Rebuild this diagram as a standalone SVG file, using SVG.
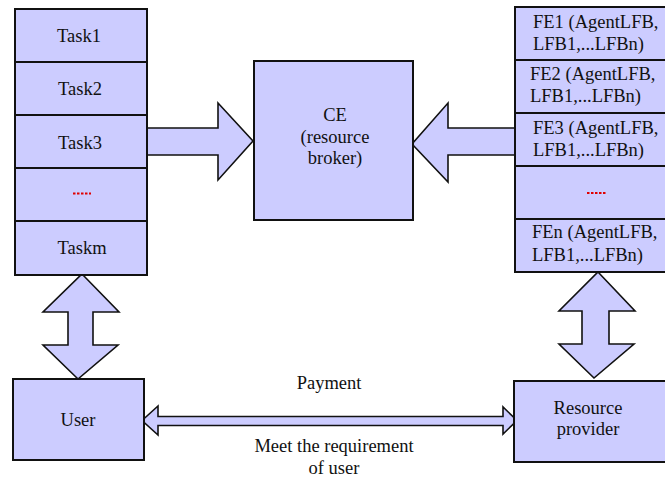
<svg xmlns="http://www.w3.org/2000/svg" width="665" height="479" viewBox="0 0 665 479" font-family="'Liberation Serif', 'Times New Roman', Times, 'DejaVu Serif', serif">
<style>
.box{fill:#ccccff;stroke:#111;stroke-width:2}
.arr{fill:#ccccff;stroke:#111;stroke-width:1.6;stroke-linejoin:miter}
.t{font-family:'Liberation Serif','Times New Roman',Times,'DejaVu Serif',serif;font-size:18.5px;fill:#111}
.c{text-anchor:middle}
.dots{stroke:#e00000;stroke-width:2;stroke-dasharray:2.5,1.5}
</style>
<rect width="665" height="479" fill="#fff"/>
<g id="connectors">
<polygon class="arr" points="147,128 218,128 218,103 253,141 218,180 218,155 147,155"/>
<polygon class="arr" points="515,128 448,128 448,103 412,144 448,182 448,155 515,155"/>
<polygon class="arr" points="82,274 119,312 93,312 93,345 118,345 78,379 43,345 68,345 68,312 43,312"/>
<polygon class="arr" points="598,272 635,311 609,311 609,344 634,344 594,378 559,344 582,344 582,311 559,311"/>
<polygon class="arr" points="142,420.5 158,406 158,416.5 503,416.5 503,407 517,420.5 503,434 503,425.5 158,425.5 158,435"/>
</g>
<g id="task1"><rect class="box" x="15" y="9" width="132" height="53"/><text class="t c" x="79" y="42">Task1</text></g>
<g id="task2"><rect class="box" x="15" y="62" width="132" height="53"/><text class="t c" x="80" y="95">Task2</text></g>
<g id="task3"><rect class="box" x="15" y="115" width="132" height="53"/><text class="t c" x="80" y="149">Task3</text></g>
<g id="task-dots"><rect class="box" x="15" y="168" width="132" height="53"/><line class="dots" x1="73" y1="193.5" x2="91" y2="193.5"/></g>
<g id="taskm"><rect class="box" x="15" y="221" width="132" height="54"/><text class="t c" x="82" y="254">Taskm</text></g>
<g id="ce"><rect class="box" x="254" y="61" width="159" height="159"/>
<text class="t c" x="335" y="121">CE</text><text class="t c" x="335" y="143">(resource</text><text class="t c" x="335" y="164">broker)</text></g>
<g id="fe1"><rect class="box" x="515" y="7" width="155" height="53"/><text class="t" x="533" y="28">FE1 (AgentLFB,</text><text class="t" x="533" y="50">LFB1,...LFBn)</text></g>
<g id="fe2"><rect class="box" x="515" y="60" width="155" height="53"/><text class="t" x="530" y="80">FE2 (AgentLFB,</text><text class="t" x="530" y="102">LFB1,...LFBn)</text></g>
<g id="fe3"><rect class="box" x="515" y="113" width="155" height="53"/><text class="t" x="533" y="134">FE3 (AgentLFB,</text><text class="t" x="533" y="156">LFB1,...LFBn)</text></g>
<g id="fe-dots"><rect class="box" x="515" y="166" width="155" height="53"/><line class="dots" x1="587" y1="193" x2="606" y2="193"/></g>
<g id="fen"><rect class="box" x="515" y="219" width="155" height="53"/><text class="t" x="532" y="238">FEn (AgentLFB,</text><text class="t" x="532" y="261">LFB1,...LFBn)</text></g>
<g id="user"><rect class="box" x="13" y="379" width="131" height="81"/><text class="t c" x="78" y="426">User</text></g>
<g id="provider"><rect class="box" x="514" y="381" width="156" height="81"/><text class="t c" x="588" y="414">Resource</text><text class="t c" x="588" y="435">provider</text></g>
<g id="labels">
<text class="t c" x="329" y="389">Payment</text>
<text class="t c" x="334" y="452">Meet the requirement</text>
<text class="t c" x="334" y="474">of user</text>
</g>
</svg>
